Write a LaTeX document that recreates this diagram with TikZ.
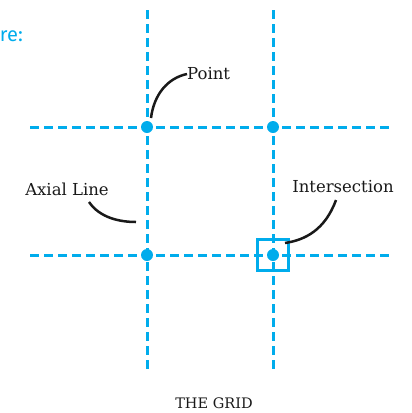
\documentclass[tikz,border=0pt]{standalone}
\usepackage{fontspec}
\setmainfont{DejaVu Serif}
\newfontfamily\capfont{Fira Sans}
\definecolor{gridcyan}{RGB}{0,172,236}
\begin{document}
\begin{tikzpicture}[x=1pt,y=-1pt,
  gridline/.style={gridcyan,line width=3pt,dash pattern=on 8.5pt off 5.5pt},
  gridpt/.style={circle,fill=gridcyan,inner sep=0pt,minimum size=12pt},
  callout/.style={black!90,line width=2.5pt},
  lbl/.style={font=\fontsize{16.5}{19}\selectfont,text=black!90,inner sep=0pt}]
\useasboundingbox (0,0) rectangle (412,413);
\begin{scope}
\clip (0,0) rectangle (412,413);
\node[anchor=base east,inner sep=0pt,text=gridcyan,font=\capfont\fontsize{20}{24}\selectfont] (cap) at (23,41) {re:};
\end{scope}
% axial lines
\coordinate (v1t) at (147,10); \coordinate (v1b) at (147,372);
\coordinate (v2t) at (273,10); \coordinate (v2b) at (273,372);
\coordinate (h1l) at (30,127); \coordinate (h1r) at (392,127);
\coordinate (h2l) at (30,255); \coordinate (h2r) at (392,255);
\draw[gridline] (v1t) -- (v1b);
\draw[gridline] (v2t) -- (v2b);
\draw[gridline] (h1l) -- (h1r);
\draw[gridline] (h2l) -- (h2r);
% points
\node[gridpt] (p11) at (147,127) {};
\node[gridpt] (p21) at (273,127) {};
\node[gridpt] (p12) at (147,255) {};
\node[gridpt] (p22) at (273,255) {};
\node[draw=gridcyan,line width=2.8pt,minimum size=31pt,inner sep=0pt] (isect) at (273,255) {};
% labels
\node[lbl,anchor=west] (lpoint) at (187,74) {Point};
\node[lbl] (laxial) at (67,189) {Axial Line};
\node[lbl] (linter) at (343,187) {Intersection};
\node[lbl,font=\fontsize{14.5}{17}\selectfont] (title) at (214,403) {THE GRID};
% callouts
\coordinate (cpt) at (151,118);
\coordinate (cax) at (136,222);
\coordinate (cin) at (285,243);
\draw[callout] (cpt) .. controls (154,94) and (168,78) .. (lpoint.west);
\draw[callout] (89,202) .. controls (100,218) and (120,222) .. (cax);
\draw[callout] (336,200) .. controls (325,230) and (305,240) .. (cin);
\end{tikzpicture}
\end{document}
